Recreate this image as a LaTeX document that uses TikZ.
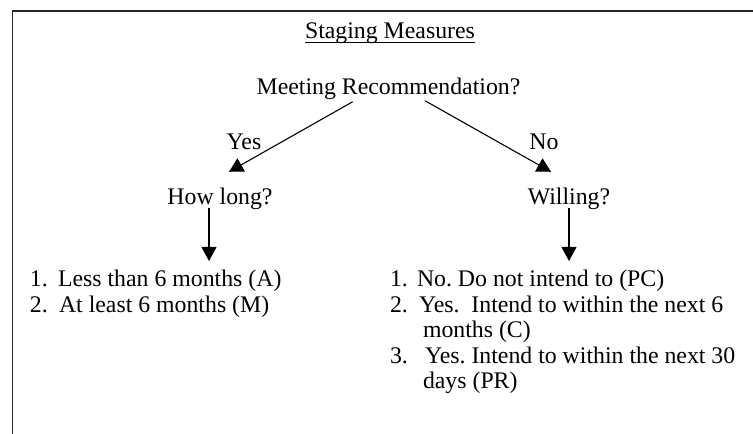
\documentclass[tikz,border=0pt]{standalone}
\usepackage{fontspec}
\setmainfont{Liberation Serif}
\usetikzlibrary{arrows.meta,calc}
\frenchspacing
\tikzset{
  txt/.style={inner sep=0pt, outer sep=0pt, font=\fontsize{23.8}{28}\selectfont, text=black},
  arr/.style={draw=black, line width=1.1pt, -{Triangle[length=14pt,width=15pt]}},
  frame/.style={draw=black!85, line width=1.3pt}
}
\begin{document}
\begin{tikzpicture}[x=1pt,y=1pt]
\useasboundingbox (0,0) rectangle (753,434);
% frame (top and left only)
\draw[frame] (12.5,0) -- (12.5,423) -- (753,423);
% title
\node[txt, anchor=base] (title) at (390,395) {Staging Measures};
\draw[line width=1pt] ([yshift=-4pt]title.base west) -- ([yshift=-4pt]title.base east);
% question nodes
\node[txt, anchor=base] (meet) at (388.5,339) {Meeting Recommendation?};
\node[txt, anchor=base] (yes) at (244,284) {Yes};
\node[txt, anchor=base] (no) at (544,284) {No};
\node[txt, anchor=base] (how) at (220,229) {How long?};
\node[txt, anchor=base] (will) at (569,229) {Willing?};
% left list
\node[txt, anchor=base west] (n1) at (30,147) {1.};
\node[txt, anchor=base west] (t1) at (58,147) {Less than 6 months (A)};
\node[txt, anchor=base west] (n2) at (30,121.5) {2.};
\node[txt, anchor=base west] (t2) at (59,121.5) {At least 6 months (M)};
% right list
\node[txt, anchor=base west] (m1) at (390,147) {1.};
\node[txt, anchor=base west] (u1) at (417,147) {No. Do not intend to (PC)};
\node[txt, anchor=base west] (m2) at (390,121.5) {2.};
\node[txt, anchor=base west] (u2) at (419,121.5) {Yes.\ \ Intend to within the next 6};
\node[txt, anchor=base west] (u2b) at (423,96) {months (C)};
\node[txt, anchor=base west] (m3) at (390,70.5) {3.};
\node[txt, anchor=base west] (u3) at (425,70.5) {Yes. Intend to within the next 30};
\node[txt, anchor=base west] (u3b) at (423,45) {days (PR)};
% connectors
\draw[arr] ([xshift=-35.8pt,yshift=-1.6pt]meet.south) -- ([xshift=9pt,yshift=16.7pt]how.north);
\draw[arr] ([xshift=36.5pt,yshift=-0.6pt]meet.south) -- ([xshift=-18pt,yshift=16.7pt]will.north);
\draw[arr] ([xshift=-11pt,yshift=2pt]how.south) -- ($([xshift=-11pt]how.south |- t1.north)+(0,9.5pt)$);
\draw[arr] ([yshift=2pt]will.south) -- ($(will.south |- u1.north)+(0,9.5pt)$);
\end{tikzpicture}
\end{document}
